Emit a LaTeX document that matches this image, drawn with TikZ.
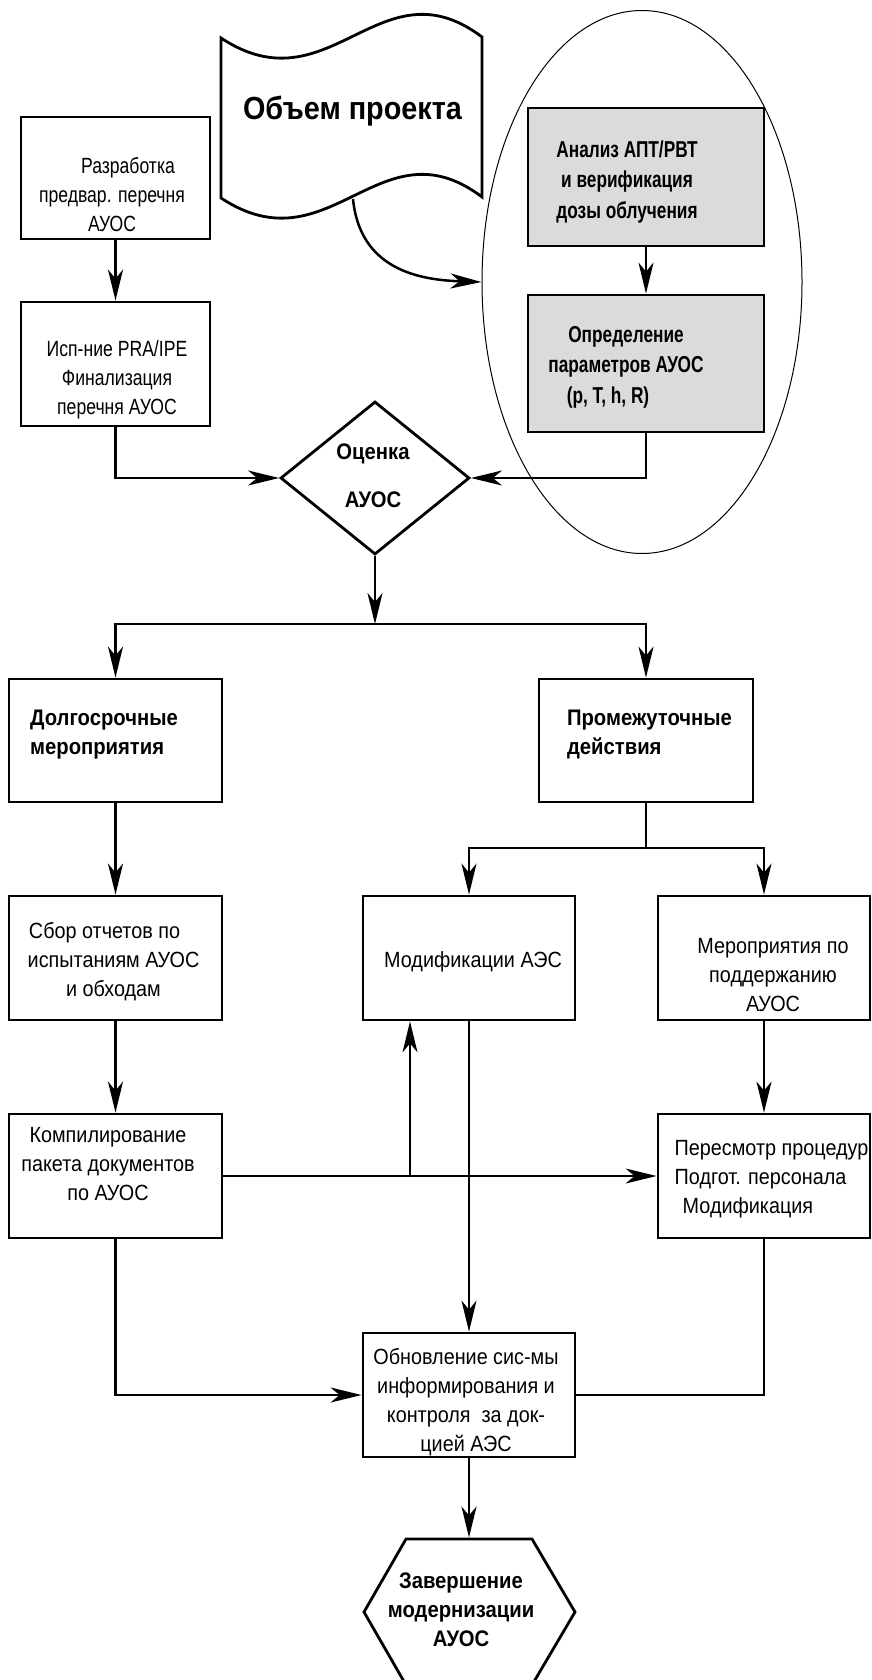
\documentclass[tikz,border=0pt]{standalone}
\usepackage{fontspec}
\setmainfont{Liberation Sans}[FakeStretch=0.9]
\newfontfamily\narrowsans{Liberation Sans}[FakeStretch=0.8]
\newfontfamily\greysans{Liberation Sans}[FakeStretch=0.75]
\usetikzlibrary{arrows.meta}
\usetikzlibrary{shapes.geometric}

\begin{document}
\begin{tikzpicture}[x=1pt, y=-1pt,
    >={Stealth[length=31pt, width=15pt, inset=9pt]},
    box/.style={draw, line width=2.8pt, inner sep=0pt},
    greybox/.style={box, fill=black!14},
    plain/.style={font=\fontsize{22}{29}\selectfont, align=center, inner sep=0pt},
    slim/.style={plain, font=\narrowsans\fontsize{22}{29}\selectfont},
    heavy/.style={font=\bfseries\fontsize{22.5}{29}\selectfont, align=center, inner sep=0pt},
    greytext/.style={heavy, font=\greysans\bfseries\fontsize{23}{30.5}\selectfont},
    link/.style={line width=2.5pt},
    thinlink/.style={line width=1.4pt}]

  \useasboundingbox (0,0) rectangle (872,1680);

  % Project scope sheet with wavy edges
  \draw[line width=2.8pt, fill=white]
    (221,38) .. controls (330,110) and (380,-40) .. (482,37) -- (482,197)
    .. controls (380,120) and (330,270) .. (221,198) -- cycle;
  \node[font=\bfseries\fontsize{32}{38}\selectfont, anchor=base, inner sep=0pt]
    (scope) at (352.5,120) {Объем проекта};
  \coordinate (docfoot) at (353,199);

  % Ellipse round the two grey steps
  \node[draw, ellipse, line width=1pt, inner sep=0pt,
        minimum width=320, minimum height=543] (halo) at (642,282) {};

  % Boxes
  \node[box, minimum width=189, minimum height=122] (dev) at (115.5,178) {};
  \node[box, minimum width=189, minimum height=124] (pra) at (115.5,364) {};
  \node[greybox, minimum width=236, minimum height=138] (apt) at (646,177) {};
  \node[greybox, minimum width=236, minimum height=137] (par) at (646,363.5) {};
  \node[box, diamond, minimum width=189, minimum height=153] (eval) at (375,478) {};
  \node[box, minimum width=213, minimum height=123] (longterm) at (115.5,740.5) {};
  \node[box, minimum width=214, minimum height=123] (interim) at (646,740.5) {};
  \node[box, minimum width=213, minimum height=124] (reports) at (115.5,958) {};
  \node[box, minimum width=212, minimum height=124] (plantmod) at (469,958) {};
  \node[box, minimum width=212, minimum height=124] (upkeep) at (764,958) {};
  \node[box, minimum width=213, minimum height=124] (compile) at (115.5,1176) {};
  \node[box, minimum width=212, minimum height=124] (review) at (764,1176) {};
  \node[box, minimum width=212, minimum height=124] (update) at (469,1395) {};

  % Final step, a hexagon cut by the lower edge
  \draw[box] (406,1539) -- (532,1539) -- (575,1612) -- (532,1685)
    -- (406,1685) -- (364,1612) -- cycle;
  \coordinate (finish) at (469,1537.5);

  % Texts
  \node[slim] (devtext) at (112,195) {\hspace*{32pt}Разработка\\предвар. перечня\\АУОС};
  \node[slim] (pratext) at (117,380) {Исп-ние PRA/IPE\\Финализация\\перечня АУОС};
  \node[greytext] (apttext) at (627,182) {Анализ АПТ/РВТ\\и верификация\\дозы облучения};
  \node[greytext] (partext) at (626,367)
    {Определение\\параметров АУОС\\(p, T, h, R)\hspace*{36pt}};
  \node[heavy] (evaltext) at (373,475.5) {Оценка\\[19pt]АУОС};
  \node[heavy, align=left] (longtext) at (104,734.5) {Долгосрочные\\мероприятия};
  \node[heavy, align=left] (intertext) at (649.5,734.5) {Промежуточные\\действия};
  \node[plain] (reporttext) at (113.5,961.5)
    {Сбор отчетов по\hspace*{18pt}\\испытаниям АУОС\\и обходам};
  \node[plain, anchor=base] (modtext) at (473,967) {Модификации АЭС};
  \node[plain] (upkeeptext) at (773,975) {Мероприятия по\\поддержанию\\АУОС};
  \node[plain] (compiletext) at (108,1164) {Компилирование\\пакета документов\\по АУОС};
  \node[plain, align=left] (reviewtext) at (771.5,1179.5)
    {Пересмотр процедур\\Подгот. персонала\\\hspace*{8pt}Модификация};
  \node[plain] (updatetext) at (466,1402)
    {Обновление сис-мы\\информирования и\\контроля~ за док-\\цией АЭС};
  \node[heavy] (finishtext) at (461,1610) {Завершение\\модернизации\\АУОС};

  % Connectors
  \draw[link, ->] (dev) -- (pra);
  \draw[link, ->] (pra.south) |- (eval.west);
  \draw[link, ->] (apt) -- (par);
  \draw[link, ->] (par.south) |- (eval.east);
  \draw[link, ->] (docfoot) .. controls (360,270) and (420,280) .. (halo.west);

  \coordinate (fork1) at (375,624);
  \draw[link, ->] (eval.south) -- (fork1);
  \draw[link, ->] (fork1) -| (longterm.north);
  \draw[link, ->] (fork1) -| (interim.north);

  \coordinate (fork2) at (646,848);
  \draw[link] (interim.south) -- (fork2);
  \draw[link, ->] (fork2) -| (plantmod.north);
  \draw[link, ->] (fork2) -| (upkeep.north);

  \draw[link, ->] (longterm) -- (reports);
  \draw[link, ->] (reports) -- (compile);
  \draw[link, ->] (upkeep) -- (review);

  \coordinate (branch) at (410,1176);
  \draw[thinlink, ->] (compile.east) -- (review.west);
  \draw[thinlink, ->] (branch) -- (branch |- plantmod.south);

  \draw[line width=2pt, ->] (plantmod) -- (update);
  \draw[link, ->] (compile.south) |- (update.west);
  \draw[link] (review.south) |- (update.east);
  \draw[link, ->] (update.south) -- (finish);

\end{tikzpicture}
\end{document}
